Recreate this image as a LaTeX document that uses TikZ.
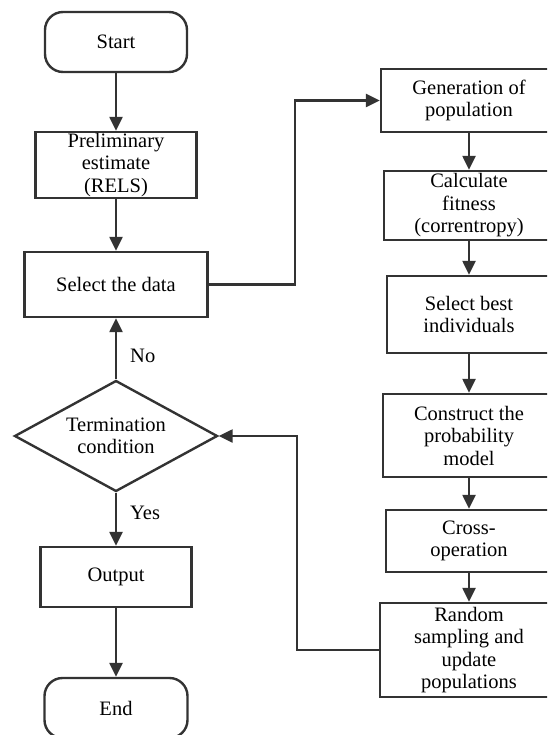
\documentclass[tikz,border=0pt]{standalone}
\usepackage{fontspec}
\setmainfont{Liberation Serif}
\usetikzlibrary{arrows.meta, shapes.geometric}

\begin{document}
\begin{tikzpicture}[x=1pt, y=-1pt,
    every node/.style={font=\fontsize{20.5}{22.5}\selectfont, align=center, inner sep=0pt},
    box/.style={draw=black!80, line width=2.4pt, rectangle},
    terminal/.style={box, rounded corners=18pt},
    decision/.style={draw=black!80, line width=2.4pt, diamond, aspect=1.83},
    flow/.style={draw=black!80, line width=2.4pt, -{Triangle[length=14pt, width=13pt]}}]
  \clip (0,0) rectangle (547,735);
  % Left column.
  \node[terminal, minimum width=142pt, minimum height=60pt] (start) at (116,42) {Start};
  \node[box, minimum width=161pt, minimum height=66pt] (prelim) at (116,165) {Preliminary\\estimate\\(RELS)};
  \node[box, minimum width=183pt, minimum height=65pt] (select) at (116,284.5) {Select the data};
  \node[decision, minimum width=203pt, minimum height=111pt] (term) at (116,436) {Termination\\condition};
  \node[box, minimum width=151pt, minimum height=60pt] (output) at (116,577) {Output};
  \node[terminal, minimum width=143pt, minimum height=60pt] (stop) at (116,708) {End};
  % Right column, cut at the page edge.
  \node[box, minimum width=176pt, minimum height=63pt] (gen) at (469,100.5) {Generation of\\population};
  \node[box, minimum width=170pt, minimum height=69pt] (fit) at (469,205.5) {Calculate\\fitness\\(correntropy)};
  \node[box, minimum width=164pt, minimum height=77pt] (best) at (469,314.5) {Select best\\individuals};
  \node[box, minimum width=172pt, minimum height=83pt] (model) at (469,435.5) {Construct the\\probability\\model};
  \node[box, minimum width=166pt, minimum height=62pt] (cross) at (469,541) {Cross-\\operation};
  \node[box, minimum width=178pt, minimum height=94pt] (sample) at (469,650) {Random\\sampling and\\update\\populations};
  % Connectors.
  \draw[flow] (start) -- (prelim);
  \draw[flow] (prelim) -- (select);
  \draw[flow] (term) -- node[right=13pt, pos=0.38] (no) {No} (select);
  \draw[flow] (term) -- node[right=13pt, pos=0.38] (yes) {Yes} (output);
  \draw[flow] (output) -- (stop);
  \draw[flow] (select.east) -- ++(86,0) |- (gen.west);
  \draw[flow] (gen) -- (fit);
  \draw[flow] (fit) -- (best);
  \draw[flow] (best) -- (model);
  \draw[flow] (model) -- (cross);
  \draw[flow] (cross) -- (sample);
  \draw[flow] (sample.west) -- ++(-82,0) |- (term.east);
\end{tikzpicture}
\end{document}
